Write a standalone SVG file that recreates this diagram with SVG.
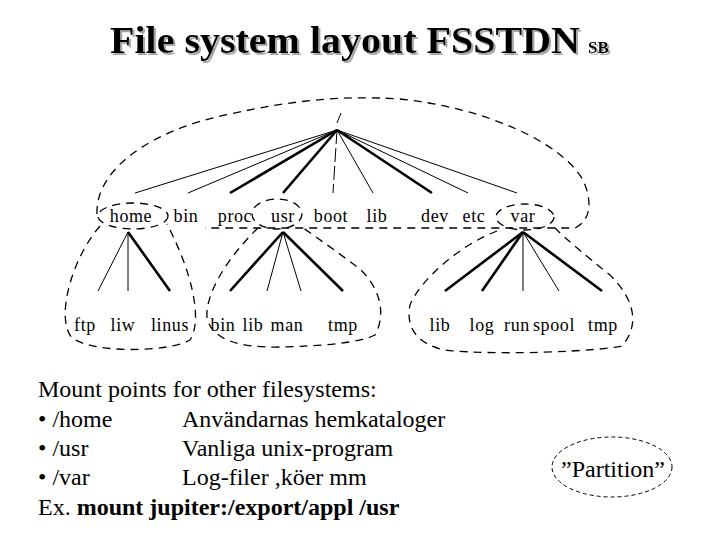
<svg xmlns="http://www.w3.org/2000/svg" width="720" height="540" viewBox="0 0 720 540">
<style>
text{font-family:"Liberation Serif","Tinos","Noto Serif","DejaVu Serif","FreeSerif","Times New Roman",Times,serif;fill:#000}
.lbl{font-size:18px;letter-spacing:0.6px;text-anchor:middle}
.body{font-size:24px}
.dash{fill:none;stroke:#000;stroke-width:1.3;stroke-dasharray:8 6}
.thin{stroke:#000;stroke-width:1;fill:none}
.thick{stroke:#000;stroke-width:2.6;fill:none}
</style>
<defs>
<filter id="shadow" x="-5%" y="-20%" width="110%" height="150%">
<feDropShadow dx="2" dy="2" stdDeviation="0.6" flood-color="#a8a8a8" flood-opacity="1"/>
</filter>
</defs>
<rect width="720" height="540" fill="#fff"/>
<g id="title" filter="url(#shadow)">
<text x="110" y="53" font-size="37" font-weight="bold" textLength="470" lengthAdjust="spacingAndGlyphs">File system layout FSSTDN</text>
<text x="588" y="53" font-size="17" font-weight="bold">SB</text>
</g>
<g id="partitions">
<path class="dash" d="M97,214 C95,170 150,130 230,114 C290,101 340,95 400,99 C480,107 560,140 583,180 C592,200 592,220 575,228 L205,228"/>
<ellipse class="dash" cx="133" cy="216" rx="35" ry="13"/>
<path class="dash" d="M100,226 C72,258 55,318 72,338 C95,354 170,352 190,340 C203,320 192,272 167,224"/>
<ellipse class="dash" cx="277" cy="214" rx="25" ry="15"/>
<path class="dash" d="M258,228 C230,255 205,292 207,318 C212,340 240,348 280,347 C320,346 360,343 375,335 C386,315 381,290 361,270 C342,255 320,240 302,227"/>
<ellipse class="dash" cx="525" cy="217" rx="29" ry="13"/>
<path class="dash" d="M497,231 C460,245 420,280 410,305 C405,330 420,345 445,350 C500,356 600,351 622,346 C640,325 635,300 610,275 C585,255 567,240 555,228"/>
</g>
<g id="connectors">
<line class="thin" x1="341" y1="113" x2="337" y2="123"/>
<line class="thin" x1="337" y1="130" x2="135" y2="193"/>
<line class="thin" x1="337" y1="130" x2="188" y2="193"/>
<line class="thick" x1="337" y1="130" x2="230" y2="193"/>
<line class="thick" x1="337" y1="130" x2="283" y2="193"/>
<line class="thin" x1="337" y1="130" x2="333" y2="193" stroke-dasharray="14 4"/>
<line class="thin" x1="337" y1="130" x2="373" y2="193"/>
<line class="thick" x1="337" y1="130" x2="432" y2="193"/>
<line class="thin" x1="337" y1="130" x2="468" y2="193"/>
<line class="thin" x1="337" y1="130" x2="517" y2="193"/>
<line class="thin" x1="128" y1="232" x2="98" y2="291"/>
<line class="thin" x1="128" y1="232" x2="128" y2="291"/>
<line class="thick" x1="128" y1="232" x2="170" y2="291"/>
<line class="thick" x1="283" y1="232" x2="230" y2="291"/>
<line class="thin" x1="283" y1="232" x2="267" y2="291"/>
<line class="thin" x1="283" y1="232" x2="301" y2="291"/>
<line class="thick" x1="283" y1="232" x2="343" y2="291"/>
<line class="thick" x1="523" y1="232" x2="445" y2="291"/>
<line class="thick" x1="523" y1="232" x2="482" y2="291"/>
<line class="thin" x1="523" y1="232" x2="523" y2="291"/>
<line class="thin" x1="523" y1="232" x2="559" y2="291" stroke-width="0.8"/>
<line class="thick" x1="523" y1="232" x2="602" y2="291" stroke-width="2.2"/>
</g>
<g id="n-home"><text class="lbl" x="131" y="222">home</text></g>
<g id="n-bin"><text class="lbl" x="186" y="222">bin</text></g>
<g id="n-proc"><text class="lbl" x="235" y="222">proc</text></g>
<g id="n-usr"><text class="lbl" x="283" y="222">usr</text></g>
<g id="n-boot"><text class="lbl" x="331" y="222">boot</text></g>
<g id="n-lib"><text class="lbl" x="377" y="222">lib</text></g>
<g id="n-dev"><text class="lbl" x="435" y="222">dev</text></g>
<g id="n-etc"><text class="lbl" x="474" y="222">etc</text></g>
<g id="n-var"><text class="lbl" x="523" y="222">var</text></g>
<g id="n-home-ftp"><text class="lbl" x="85" y="331">ftp</text></g>
<g id="n-home-liw"><text class="lbl" x="123" y="331">liw</text></g>
<g id="n-home-linus"><text class="lbl" x="170" y="331">linus</text></g>
<g id="n-usr-bin"><text class="lbl" x="223" y="331">bin</text></g>
<g id="n-usr-lib"><text class="lbl" x="253" y="331">lib</text></g>
<g id="n-usr-man"><text class="lbl" x="287" y="331">man</text></g>
<g id="n-usr-tmp"><text class="lbl" x="343" y="331">tmp</text></g>
<g id="n-var-lib"><text class="lbl" x="440" y="331">lib</text></g>
<g id="n-var-log"><text class="lbl" x="482" y="331">log</text></g>
<g id="n-var-run"><text class="lbl" x="517" y="331">run</text></g>
<g id="n-var-spool"><text class="lbl" x="554" y="331">spool</text></g>
<g id="n-var-tmp"><text class="lbl" x="603" y="331">tmp</text></g>
<g id="notes">
<text class="body" x="38" y="397">Mount points for other filesystems:</text>
<text class="body" x="38" y="427">• /home</text>
<text class="body" x="182" y="427">Användarnas hemkataloger</text>
<text class="body" x="38" y="456">• /usr</text>
<text class="body" x="182" y="456">Vanliga unix-program</text>
<text class="body" x="38" y="485">• /var</text>
<text class="body" x="182" y="485">Log-filer ,köer mm</text>
<text class="body" x="38" y="515">Ex. <tspan font-weight="bold">mount jupiter:/export/appl /usr</tspan></text>
</g>
<g id="legend">
<ellipse cx="612" cy="467" rx="60" ry="30" fill="none" stroke="#000" stroke-width="1" stroke-dasharray="4 3"/>
<text class="body" x="613" y="477" text-anchor="middle">”Partition”</text>
</g>
</svg>
